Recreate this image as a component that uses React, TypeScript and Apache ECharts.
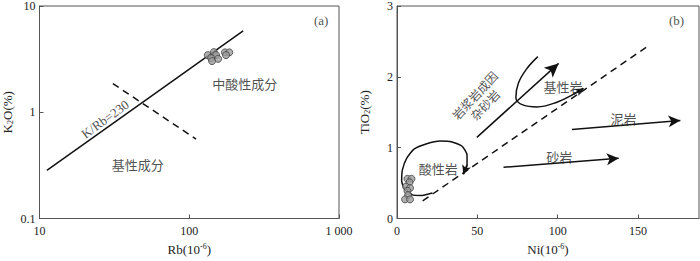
import React, { useEffect, useRef } from "react";
import * as echarts from "echarts";

// ---------- Panel (a): K2O vs Rb ----------
const rbTickValues = [10, 100, 1000];
const rbTickLabels = ["10", "100", "1 000"];
const k2oTickValues = [0.1, 1, 10];
const k2oTickLabels = ["0.1", "1", "10"];

const sampleRb = [133, 146, 151, 140, 142, 156, 173, 185, 176];
const sampleK2O = [3.45, 3.68, 3.45, 3.23, 3.03, 3.18, 3.66, 3.66, 3.45];

const kRbLineRb = [11.2, 229];
const kRbLineK2O = [0.284, 5.82];

const splitLineRb = [30.9, 111];
const splitLineK2O = [1.86, 0.56];

const labelsA = [
  { text: "中酸性成分", x: 235, y: 1.85, rotate: 0, cjk: true },
  { text: "基性成分", x: 45.3, y: 0.321, rotate: 0, cjk: true },
  { text: "K/Rb=230", x: 27.4, y: 0.86, rotate: 36, cjk: false },
  { text: "(a)", x: 760, y: 7.3, rotate: 0, cjk: false },
];

// ---------- Panel (b): TiO2 vs Ni ----------
const sampleNi = [6.5, 9.0, 7.8, 5.6, 8.1, 6.5, 6.9, 5.0, 8.1];
const sampleTiO2 = [0.56, 0.56, 0.51, 0.45, 0.43, 0.39, 0.33, 0.27, 0.27];

const dashNi = [16, 156];
const dashTiO2 = [0.25, 2.43];

const acidLoopNi = [22, 15.6, 10, 5, 2.9, 3.4, 6, 10.6, 18.5, 26.8, 34.3, 40.5, 43.6, 43.6, 41.3];
const acidLoopTiO2 = [0.36, 0.326, 0.33, 0.41, 0.53, 0.69, 0.85, 0.98, 1.055, 1.093, 1.08, 1.02, 0.9, 0.76, 0.625];

const basicCurveNi = [87.7, 80.9, 75.6, 74, 78.7, 87.1, 99.6, 110, 116];
const basicCurveTiO2 = [2.285, 2.118, 1.914, 1.71, 1.6, 1.575, 1.642, 1.755, 1.837];

// straight arrows: [startNi, startTiO2, endNi, endTiO2]
const arrowGreywacke = [49.7, 1.145, 100.6, 2.19];
const arrowMudstone = [108.9, 1.258, 176.4, 1.385];
const arrowSandstone = [66.3, 0.723, 138, 0.851];

const labelsB = [
  { text: "(b)", x: 174, y: 2.8, rotate: 0, cjk: false, size: 13 },
  { text: "基性岩", x: 103.3, y: 1.87, rotate: 0, cjk: true, size: 13 },
  { text: "泥岩", x: 141, y: 1.416, rotate: 0, cjk: true, size: 13 },
  { text: "砂岩", x: 101, y: 0.873, rotate: 0, cjk: true, size: 13 },
  { text: "酸性岩", x: 25.7, y: 0.706, rotate: 0, cjk: true, size: 13 },
  { text: "岩浆岩成因\n杂砂岩", x: 51.3, y: 1.676, rotate: 47, cjk: true, size: 12 },
];

const SERIF = "'Liberation Serif', 'Times New Roman', serif";
const CJK = "'Noto Sans CJK SC', sans-serif";
const INK = "#111";
const AXIS = "#555";

const zip = (a: number[], b: number[]) => a.map((v, i) => [v, b[i]]);

function labelSeries(list: any[], xi: number) {
  return {
    type: "scatter",
    xAxisIndex: xi,
    yAxisIndex: xi,
    symbolSize: 0,
    silent: true,
    z: 5,
    data: list.map((l) => ({
      value: [l.x, l.y],
      label: {
        show: true,
        position: "inside",
        formatter: l.text,
        rotate: l.rotate,
        align: "center",
        verticalAlign: "middle",
        fontFamily: l.cjk ? CJK : SERIF,
        fontSize: l.size || 13,
        lineHeight: 14,
        color: "#222",
      },
    })),
  };
}

function arrowSeries(arrows: number[][], sizes: number[][]) {
  return {
    type: "line",
    xAxisIndex: 1,
    yAxisIndex: 1,
    data: [],
    silent: true,
    markLine: {
      silent: true,
      animation: false,
      label: { show: false },
      emphasis: { disabled: true },
      lineStyle: { color: INK, width: 1.5, type: "solid" },
      data: arrows.map((a, i) => [
        { coord: [a[0], a[1]], symbol: "none" },
        { coord: [a[2], a[3]], symbol: "arrow", symbolSize: sizes[i] },
      ]),
    },
  };
}

const lastTwo = (xs: number[], ys: number[]) => {
  const n = xs.length;
  return [xs[n - 2], ys[n - 2], xs[n - 1], ys[n - 1]];
};

const nameRich = {
  n: { fontFamily: SERIF, fontSize: 13, color: "#222" },
  sub: { fontFamily: SERIF, fontSize: 8, color: "#222", verticalAlign: "bottom", padding: [6, 0, 0, 0] },
  sup: { fontFamily: SERIF, fontSize: 8, color: "#222", verticalAlign: "top", padding: [0, 0, 6, 0] },
};

const commonAxis = {
  axisLine: { show: true, lineStyle: { color: AXIS, width: 1 } },
  axisTick: { show: true, inside: true, length: 4, lineStyle: { color: AXIS } },
  minorTick: { show: false },
  splitLine: { show: false },
  nameLocation: "middle",
  nameTextStyle: { rich: nameRich },
};

const labelFromMap = (vals: number[], labels: string[]) => (v: number) => {
  const idx = vals.findIndex((t) => Math.abs(Math.log10(t) - Math.log10(v)) < 1e-6);
  return idx >= 0 ? labels[idx] : "";
};

export default function App() {
  const ref = useRef<HTMLDivElement>(null);
  useEffect(() => {
    if (!ref.current) return;
    const chart = echarts.init(ref.current, undefined, { renderer: "svg" });
    const option: any = {
      animation: false,
      backgroundColor: "#fff",
      grid: [
        { left: 37, top: 5, width: 302, height: 221, show: true, borderColor: AXIS, borderWidth: 1 },
        { left: 397, top: 5, width: 302, height: 221, show: true, borderColor: AXIS, borderWidth: 1 },
      ],
      xAxis: [
        {
          ...commonAxis,
          gridIndex: 0,
          type: "log",
          logBase: 10,
          min: 10,
          max: 1000,
          name: "{n|Rb(10}{sup|-6}{n|)}",
          nameGap: 24,
          axisLabel: {
            formatter: labelFromMap(rbTickValues, rbTickLabels),
            fontFamily: SERIF,
            fontSize: 12,
            color: "#222",
            margin: 6,
          },
        },
        {
          ...commonAxis,
          gridIndex: 1,
          type: "value",
          min: 0,
          max: 188,
          interval: 50,
          name: "{n|Ni(10}{sup|-6}{n|)}",
          nameGap: 24,
          axisLabel: {
            fontFamily: SERIF,
            fontSize: 12,
            color: "#222",
            margin: 6,
            showMaxLabel: false,
          },
        },
      ],
      yAxis: [
        {
          ...commonAxis,
          gridIndex: 0,
          type: "log",
          logBase: 10,
          min: 0.1,
          max: 10,
          name: "{n|K}{sub|2}{n|O(%)}",
          nameGap: 25,
          axisLabel: {
            formatter: labelFromMap(k2oTickValues, k2oTickLabels),
            fontFamily: SERIF,
            fontSize: 12,
            color: "#222",
            margin: 4,
          },
        },
        {
          ...commonAxis,
          gridIndex: 1,
          type: "value",
          min: 0,
          max: 3,
          interval: 1,
          name: "{n|TiO}{sub|2}{n|(%)}",
          nameGap: 26,
          axisLabel: {
            fontFamily: SERIF,
            fontSize: 12,
            color: "#222",
            margin: 4,
          },
        },
      ],
      series: [
        {
          type: "line",
          xAxisIndex: 0,
          yAxisIndex: 0,
          data: zip(kRbLineRb, kRbLineK2O),
          showSymbol: false,
          silent: true,
          lineStyle: { color: INK, width: 1.5 },
        },
        {
          type: "line",
          xAxisIndex: 0,
          yAxisIndex: 0,
          data: zip(splitLineRb, splitLineK2O),
          showSymbol: false,
          silent: true,
          lineStyle: { color: INK, width: 1.5, type: [7, 5] },
        },
        {
          type: "scatter",
          xAxisIndex: 0,
          yAxisIndex: 0,
          data: zip(sampleRb, sampleK2O),
          symbol: "circle",
          symbolSize: 7,
          itemStyle: { color: "#9c9c9c", borderColor: "#333", borderWidth: 0.9 },
          z: 4,
        },
        labelSeries(labelsA, 0),
        {
          type: "line",
          xAxisIndex: 1,
          yAxisIndex: 1,
          data: zip(dashNi, dashTiO2),
          showSymbol: false,
          silent: true,
          lineStyle: { color: INK, width: 1.5, type: [7, 5] },
        },
        {
          type: "line",
          xAxisIndex: 1,
          yAxisIndex: 1,
          data: zip(acidLoopNi, acidLoopTiO2),
          smooth: 0.2,
          showSymbol: false,
          silent: true,
          lineStyle: { color: INK, width: 1.5 },
        },
        {
          type: "line",
          xAxisIndex: 1,
          yAxisIndex: 1,
          data: zip(basicCurveNi, basicCurveTiO2),
          smooth: 0.4,
          showSymbol: false,
          silent: true,
          lineStyle: { color: INK, width: 1.5 },
        },
        arrowSeries(
          [
            arrowGreywacke,
            arrowMudstone,
            arrowSandstone,
            lastTwo(acidLoopNi, acidLoopTiO2),
            lastTwo(basicCurveNi, basicCurveTiO2),
          ],
          [
            [10, 14],
            [9, 12],
            [9, 12],
            [7, 9],
            [6, 8],
          ]
        ),
        {
          type: "scatter",
          xAxisIndex: 1,
          yAxisIndex: 1,
          data: zip(sampleNi, sampleTiO2),
          symbol: "circle",
          symbolSize: 7,
          itemStyle: { color: "#9c9c9c", borderColor: "#333", borderWidth: 0.9 },
          z: 4,
        },
        labelSeries(labelsB, 1),
      ],
    };
    chart.setOption(option);
    return () => chart.dispose();
  }, []);
  return (
    <div
      ref={ref}
      style={{ position: "fixed", left: 0, top: 0, width: 700, height: 261, background: "#fff" }}
    />
  );
}
